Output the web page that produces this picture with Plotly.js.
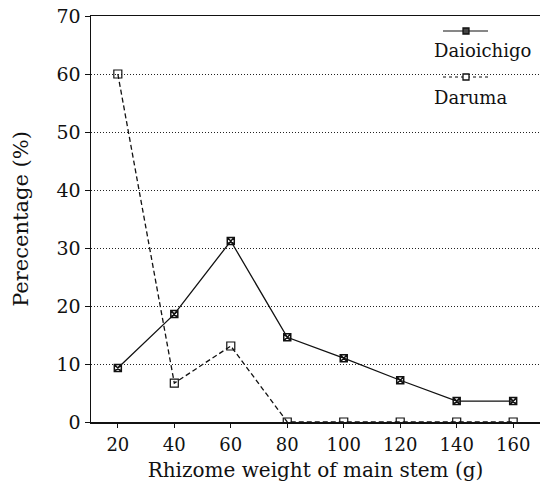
<!DOCTYPE html>
<html>
<head>
<meta charset="utf-8">
<script src="https://cdn.plot.ly/plotly-3.0.1.min.js"></script>
<style>html,body{margin:0;padding:0;background:#fff;}#chart{width:541px;height:489px;}</style>
</head>
<body>
<div id="chart"></div>
<script>
const weights = [20, 40, 60, 80, 100, 120, 140, 160];
const daioichigo = [9.3, 18.6, 31.2, 14.6, 11.0, 7.2, 3.6, 3.6];
const daruma = [60, 6.7, 13.1, 0, 0, 0, 0, 0];
const seriesNames = ["Daioichigo", "Daruma"];
const yTicks = [0, 10, 20, 30, 40, 50, 60, 70];

const FONT = "DejaVu Serif, Liberation Serif, serif";
const L = 91, T = 16, W = 449, H = 406;
const px = x => (x - L) / W;
const py = y => (T + H - y) / H;

const traces = [
  {x: weights, y: daioichigo, name: seriesNames[0], mode: "lines+markers",
   line: {color: "#111", width: 1.3, dash: "solid"},
   marker: {symbol: "square-x-open", size: 7, color: "#111", line: {width: 1.5}}},
  {x: weights, y: daruma, name: seriesNames[1], mode: "lines+markers",
   line: {color: "#111", width: 1.3, dash: "5px,3px"},
   marker: {symbol: "square-open", size: 8, color: "#111", line: {width: 1.2}}}
];

function legendEntry(dash, symbolY, textY, label, markerFill) {
  return {
    shapes: [
      {type: "line", xref: "paper", yref: "paper", x0: px(443), x1: px(488), y0: py(symbolY), y1: py(symbolY),
       line: {color: "#111", width: 1.2, dash: dash}},
      {type: "rect", xref: "paper", yref: "paper", x0: px(463), x1: px(469), y0: py(symbolY + 3), y1: py(symbolY - 3),
       line: {color: "#111", width: 1.3}, fillcolor: markerFill}
    ],
    ann: {xref: "paper", yref: "paper", x: px(432), y: py(textY), xanchor: "left", yanchor: "middle",
          text: label, showarrow: false, font: {family: FONT, size: 18, color: "#111"}}
  };
}
const e1 = legendEntry("solid", 31, 51, seriesNames[0], "#444");
const e2 = legendEntry("3px,3px", 77, 98, seriesNames[1], "#fff");

const layout = {
  width: 541, height: 489,
  margin: {l: L, r: 541 - L - W, t: T, b: 489 - T - H},
  paper_bgcolor: "#fff", plot_bgcolor: "#fff",
  showlegend: false,
  font: {family: FONT, size: 18, color: "#111"},
  xaxis: {
    range: [10.5, 169.5], tickvals: weights, ticks: "outside", ticklen: 4, tickwidth: 1, tickcolor: "#111",
    showgrid: false, zeroline: false, showline: true, linecolor: "#111", linewidth: 1.5, mirror: true,
    tickfont: {family: FONT, size: 18}, ticklabelstandoff: 2,
    title: {text: "Rhizome weight of main stem (g)", font: {family: FONT, size: 20}, standoff: 9}
  },
  yaxis: {
    range: [0, 70], tickvals: yTicks, ticks: "outside", ticklen: 5, tickwidth: 1, tickcolor: "#111",
    showgrid: true, gridcolor: "#222", gridwidth: 1, griddash: "1px,2px",
    zeroline: false, showline: true, linecolor: "#111", linewidth: 1.5, mirror: false,
    tickfont: {family: FONT, size: 19},
    title: {text: "Perecentage (%)", font: {family: FONT, size: 21}, standoff: 22}
  },
  shapes: e1.shapes.concat(e2.shapes),
  annotations: [e1.ann, e2.ann]
};

Plotly.newPlot("chart", traces, layout, {displayModeBar: false, staticPlot: true});
</script>
</body>
</html>
